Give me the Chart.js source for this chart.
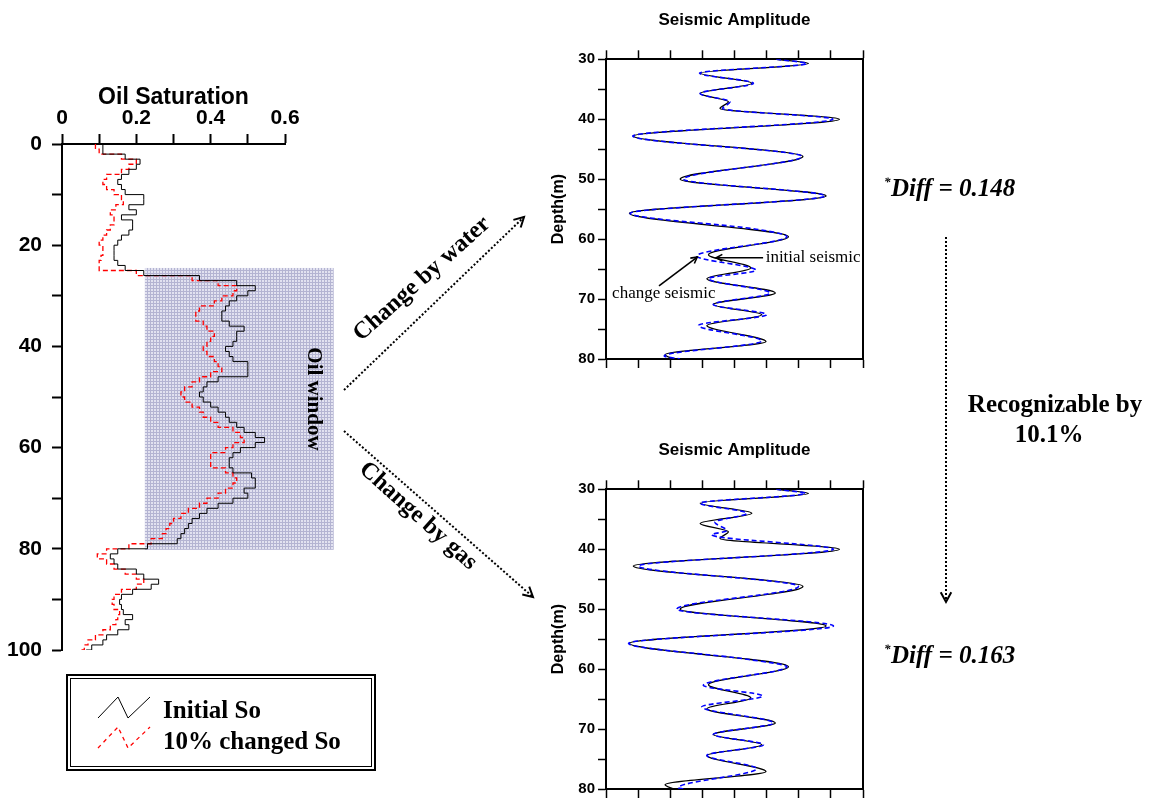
<!DOCTYPE html>
<html>
<head>
<meta charset="utf-8">
<script src="https://cdn.jsdelivr.net/npm/chart.js@4.4.0/dist/chart.umd.min.js"></script>
<style>
html, body { margin: 0; padding: 0; background: #fff; overflow: hidden; }
#wrap { position: relative; width: 1149px; height: 799px; }
canvas { position: absolute; }
</style>
</head>
<body>
<div id="wrap">
  <canvas id="soChart" width="1149" height="799" style="left:0;top:0"></canvas>
  <canvas id="waterChart" width="400" height="380" style="left:520px;top:0"></canvas>
  <canvas id="gasChart" width="400" height="380" style="left:520px;top:430px"></canvas>
</div>
<script>
// oil saturation log, 1 m steps
var soDepth = [0, 1, 2, 3, 4, 5, 6, 7, 8, 9, 10, 11, 12, 13, 14, 15, 16, 17, 18, 19, 20,
  21, 22, 23, 24, 25, 26, 27, 28, 29, 30, 31, 32, 33, 34, 35, 36, 37, 38, 39, 40,
  41, 42, 43, 44, 45, 46, 47, 48, 49, 50, 51, 52, 53, 54, 55, 56, 57, 58, 59, 60,
  61, 62, 63, 64, 65, 66, 67, 68, 69, 70, 71, 72, 73, 74, 75, 76, 77, 78, 79, 80,
  81, 82, 83, 84, 85, 86, 87, 88, 89, 90, 91, 92, 93, 94, 95, 96, 97, 98, 99, 100];
var soInitial = [0.11, 0.11, 0.17, 0.21, 0.20, 0.18, 0.16, 0.15, 0.16, 0.17, 0.22,
  0.22, 0.18, 0.20, 0.16, 0.19, 0.19, 0.18, 0.16, 0.15, 0.14,
  0.14, 0.14, 0.15, 0.17, 0.22, 0.37, 0.47, 0.52, 0.50, 0.47,
  0.45, 0.44, 0.43, 0.43, 0.45, 0.49, 0.47, 0.47, 0.46, 0.44,
  0.45, 0.46, 0.50, 0.50, 0.50, 0.42, 0.39, 0.38, 0.37, 0.38,
  0.40, 0.42, 0.44, 0.45, 0.47, 0.49, 0.52, 0.545, 0.52, 0.48,
  0.46, 0.45, 0.45, 0.46, 0.51, 0.52, 0.52, 0.49, 0.50, 0.46,
  0.42, 0.39, 0.37, 0.35, 0.34, 0.33, 0.32, 0.31, 0.23, 0.15,
  0.13, 0.14, 0.15, 0.20, 0.22, 0.26, 0.24, 0.19, 0.16, 0.155,
  0.16, 0.165, 0.19, 0.17, 0.18, 0.15, 0.12, 0.11, 0.08, 0.065];
var soChanged = [0.09, 0.10, 0.16, 0.20, 0.18, 0.16, 0.12, 0.11, 0.12, 0.14, 0.16,
  0.165, 0.145, 0.13, 0.14, 0.14, 0.13, 0.12, 0.11, 0.10, 0.11,
  0.11, 0.105, 0.10, 0.10, 0.20, 0.35, 0.42, 0.47, 0.46, 0.43,
  0.41, 0.37, 0.36, 0.36, 0.38, 0.39, 0.41, 0.40, 0.39, 0.38,
  0.39, 0.41, 0.42, 0.43, 0.40, 0.37, 0.35, 0.33, 0.32, 0.33,
  0.35, 0.37, 0.38, 0.40, 0.42, 0.46, 0.48, 0.49, 0.46, 0.44,
  0.40, 0.40, 0.40, 0.44, 0.46, 0.47, 0.46, 0.44, 0.42, 0.39,
  0.37, 0.34, 0.32, 0.30, 0.29, 0.28, 0.27, 0.24, 0.18, 0.12,
  0.095, 0.12, 0.14, 0.17, 0.20, 0.22, 0.20, 0.16, 0.14, 0.135,
  0.14, 0.155, 0.15, 0.145, 0.13, 0.11, 0.09, 0.07, 0.06, 0.05];
var soTickLabels = ['0', '0.2', '0.4', '0.6'];
var depthTickLabels = [0, 20, 40, 60, 80, 100];
var oilWindowSo = [0.223, 0.731];
var oilWindowDepth = [24.5, 80.2];

// seismic traces (depth of each extreme, amplitude)
var initDepth = [30, 30.7, 32.3, 34.0, 35.7, 37.1, 38.2, 40.0, 42.8, 46.2, 50.0, 52.8,
  55.7, 59.6, 62.6, 64.8, 66.6, 69.0, 70.9, 72.6, 74.4, 77.1, 79.3, 80];
var initAmp = [1.3, 2.30, -1.07, 0.54, -1.07, -0.19, -0.45, 3.27, -3.15, 2.13, -1.69, 2.85,
  -3.27, 1.68, -0.81, 0.51, -0.86, 1.27, -0.66, 0.85, -0.86, 0.98, -2.16, -1.9];
var waterDepth = [30, 30.7, 32.3, 34.0, 35.7, 37.1, 38.2, 40.0, 42.8, 46.2, 50.0, 52.8,
  55.7, 58.4, 59.6, 62.8, 65.2, 66.6, 69.0, 70.9, 72.6, 74.4, 77.0, 79.5, 80];
var waterAmp = [1.3, 2.25, -1.09, 0.59, -1.07, -0.14, -0.37, 3.06, -3.17, 2.10, -1.59, 2.82,
  -3.25, 0.75, 1.63, -1.18, 0.67, -0.81, 1.11, -0.66, 1.0, -1.12, 0.85, -2.19, -1.7];
var gasDepth = [30, 30.7, 32.3, 34.0, 35.5, 36.9, 37.6, 40.0, 42.8, 46.2, 50.0, 52.8,
  55.7, 58.4, 59.6, 62.7, 64.5, 66.3, 69.0, 70.9, 72.6, 74.4, 76.6, 79.8, 80];
var gasAmp = [1.3, 2.20, -1.07, 0.38, -0.61, -0.24, -0.71, 3.08, -2.99, 1.99, -1.80, 3.08,
  -3.30, 0.45, 1.63, -0.97, 0.88, -1.02, 1.21, -0.66, 0.90, -0.86, 0.69, -1.75, -1.59];
var seisTickLabels = [30, 40, 50, 60, 70, 80];

var SANS = '"Liberation Sans", Arial, sans-serif';
var SERIF = '"Liberation Serif", "Times New Roman", serif';

function pts(xs, ys) {
  return ys.map(function (d, i) { return { x: xs[i], y: d }; });
}

function arrowHead(ctx, x1, y1, x2, y2, size) {
  var a = Math.atan2(y2 - y1, x2 - x1);
  ctx.setLineDash([]);
  ctx.beginPath();
  ctx.moveTo(x2 - size * Math.cos(a - 0.5), y2 - size * Math.sin(a - 0.5));
  ctx.lineTo(x2, y2);
  ctx.lineTo(x2 - size * Math.cos(a + 0.5), y2 - size * Math.sin(a + 0.5));
  ctx.stroke();
}

function arrow(ctx, x1, y1, x2, y2, dash, width, size) {
  ctx.save();
  ctx.strokeStyle = '#000';
  ctx.lineWidth = width;
  ctx.setLineDash(dash);
  ctx.beginPath();
  ctx.moveTo(x1, y1);
  ctx.lineTo(x2, y2);
  ctx.stroke();
  arrowHead(ctx, x1, y1, x2, y2, size);
  ctx.restore();
}

function rotText(ctx, text, x, y, ang, font) {
  ctx.save();
  ctx.translate(x, y);
  ctx.rotate(ang);
  ctx.font = font;
  ctx.fillStyle = '#000';
  ctx.textAlign = 'center';
  ctx.textBaseline = 'middle';
  ctx.fillText(text, 0, 0);
  ctx.restore();
}

function gridPattern(ctx) {
  var c = document.createElement('canvas');
  c.width = 3; c.height = 3;
  var g = c.getContext('2d');
  g.fillStyle = '#e2e2f0';
  g.fillRect(0, 0, 3, 3);
  g.fillStyle = '#b4b4d2';
  g.fillRect(0, 0, 3, 1);
  g.fillRect(0, 0, 1, 3);
  return ctx.createPattern(c, 'repeat');
}

function diffText(ctx, x, y, value) {
  ctx.save();
  ctx.fillStyle = '#000';
  ctx.textAlign = 'left';
  ctx.textBaseline = 'alphabetic';
  ctx.font = 'italic bold 13px ' + SERIF;
  ctx.fillText('*', x, y - 10);
  ctx.font = 'italic bold 25px ' + SERIF;
  ctx.fillText('Diff = ' + value, x + 7, y);
  ctx.restore();
}

var figureNotes = {
  id: 'figureNotes',
  beforeDatasetsDraw: function (chart) {
    var ctx = chart.ctx, xs = chart.scales.x, ys = chart.scales.y;
    var x0 = xs.getPixelForValue(oilWindowSo[0]), x1 = xs.getPixelForValue(oilWindowSo[1]);
    var y0 = ys.getPixelForValue(oilWindowDepth[0]), y1 = ys.getPixelForValue(oilWindowDepth[1]);
    ctx.save();
    ctx.fillStyle = gridPattern(ctx);
    ctx.fillRect(x0, y0, x1 - x0, y1 - y0);
    ctx.restore();
    rotText(ctx, 'Oil window', 313, 399, Math.PI / 2, 'bold 21px ' + SERIF);
  },
  afterDraw: function (chart) {
    var ctx = chart.ctx;
    // arrows towards the seismic panels
    arrow(ctx, 344, 390, 524, 217, [2, 2], 2, 11);
    arrow(ctx, 344, 431, 533, 597, [2, 2], 2, 11);
    rotText(ctx, 'Change by water', 422, 279, -0.73, 'bold 24px ' + SERIF);
    rotText(ctx, 'Change by gas', 418, 516, 0.73, 'bold 24px ' + SERIF);

    diffText(ctx, 884, 196, '0.148');
    diffText(ctx, 884, 663, '0.163');
    arrow(ctx, 946, 237, 946, 602, [2, 2], 2, 11);
    ctx.save();
    ctx.fillStyle = '#000';
    ctx.font = 'bold 25px ' + SERIF;
    ctx.textAlign = 'center';
    ctx.fillText('Recognizable by', 1055, 412);
    ctx.fillText('10.1%', 1049, 442);
    ctx.restore();

    // legend box
    ctx.save();
    ctx.strokeStyle = '#000';
    ctx.lineWidth = 2;
    ctx.strokeRect(67, 675, 308, 95);
    ctx.lineWidth = 1;
    ctx.strokeRect(70.5, 678.5, 301, 88);
    ctx.beginPath();
    ctx.moveTo(98, 718); ctx.lineTo(118, 697); ctx.lineTo(128, 718); ctx.lineTo(150, 697);
    ctx.stroke();
    ctx.strokeStyle = '#ff0000';
    ctx.lineWidth = 1.3;
    ctx.setLineDash([4, 4]);
    ctx.beginPath();
    ctx.moveTo(98, 748); ctx.lineTo(118, 727); ctx.lineTo(128, 748); ctx.lineTo(150, 727);
    ctx.stroke();
    ctx.fillStyle = '#000';
    ctx.font = 'bold 25px ' + SERIF;
    ctx.fillText('Initial So', 163, 718);
    ctx.fillText('10% changed So', 163, 749);
    ctx.restore();
  }
};

new Chart('soChart', {
  type: 'scatter',
  data: {
    datasets: [{
      label: 'Initial So',
      data: pts(soInitial, soDepth),
      showLine: true,
      stepped: 'after',
      borderColor: '#000',
      borderWidth: 1,
      pointRadius: 0,
      order: 0
    }, {
      label: '10% changed So',
      data: pts(soChanged, soDepth),
      showLine: true,
      stepped: 'after',
      borderColor: '#ff0000',
      borderWidth: 1.3,
      borderDash: [5, 3],
      pointRadius: 0,
      order: 1
    }]
  },
  options: {
    responsive: false,
    animation: false,
    layout: { padding: { left: 2, top: 84, right: 864, bottom: 149 } },
    plugins: { legend: { display: false }, tooltip: { enabled: false } },
    scales: {
      x: {
        type: 'linear', position: 'top', min: 0, max: 0.6,
        afterFit: function (s) { s.height = 60; },
        ticks: {
          stepSize: 0.1, autoSkip: false, maxRotation: 0, padding: 3, color: '#000',
          font: { family: SANS, weight: 'bold', size: 21 },
          callback: function (v) {
            var k = Math.round(v * 10);
            return k % 2 === 0 ? soTickLabels[k / 2] : '';
          }
        },
        grid: { drawOnChartArea: false, tickLength: 10, tickColor: '#000', tickWidth: 2 },
        border: { color: '#000', width: 2 },
        title: {
          display: true, text: 'Oil Saturation', color: '#000',
          font: { family: SANS, weight: 'bold', size: 23 }, padding: { top: 0, bottom: 0 }
        }
      },
      y: {
        type: 'linear', reverse: true, min: 0, max: 100,
        afterFit: function (s) { s.width = 60; },
        ticks: {
          stepSize: 10, autoSkip: false, padding: 10, color: '#000',
          font: { family: SANS, weight: 'bold', size: 21 },
          callback: function (v) { return depthTickLabels.indexOf(v) >= 0 ? v : ''; }
        },
        grid: { drawOnChartArea: false, tickLength: 10, tickColor: '#000', tickWidth: 2 },
        border: { color: '#000', width: 2 }
      }
    }
  },
  plugins: [figureNotes]
});

var seismicNotes = {
  id: 'seismicNotes',
  afterDatasetsDraw: function (chart) {
    var ctx = chart.ctx, xs = chart.scales.x, ys = chart.scales.y;
    ctx.save();
    ctx.fillStyle = '#000';
    ctx.font = '17px ' + SERIF;
    ctx.fillText('initial seismic', xs.getPixelForValue(0.97), ys.getPixelForValue(63.8));
    ctx.fillText('change seismic', xs.getPixelForValue(-3.81), ys.getPixelForValue(69.8));
    arrow(ctx, xs.getPixelForValue(0.89), ys.getPixelForValue(63.1),
      xs.getPixelForValue(-0.57), ys.getPixelForValue(63.1), [], 1.6, 7);
    arrow(ctx, xs.getPixelForValue(-2.35), ys.getPixelForValue(67.8),
      xs.getPixelForValue(-1.16), ys.getPixelForValue(63.0), [], 1.6, 7);
    ctx.restore();
  }
};

function seismicChart(id, changeDepth, changeAmp, extra) {
  var tickGrid = { drawOnChartArea: false, tickLength: 9, tickColor: '#000', tickWidth: 1.5 };
  return new Chart(id, {
    type: 'line',
    data: {
      datasets: [{
        data: pts(changeAmp, changeDepth),
        borderColor: '#0000ff',
        borderWidth: 1.6,
        borderDash: [5, 3],
        pointRadius: 0,
        cubicInterpolationMode: 'monotone',
        order: 0
      }, {
        data: pts(initAmp, initDepth),
        borderColor: '#000',
        borderWidth: 1.3,
        pointRadius: 0,
        cubicInterpolationMode: 'monotone',
        order: 1
      }]
    },
    options: {
      indexAxis: 'y',
      responsive: false,
      animation: false,
      layout: { padding: { left: 26, top: 0, right: 57, bottom: 11 } },
      plugins: { legend: { display: false }, tooltip: { enabled: false } },
      scales: {
        x: {
          type: 'linear', position: 'top', min: -4, max: 4,
          afterFit: function (s) { s.height = 59.3; },
          ticks: { display: false, stepSize: 1 },
          grid: tickGrid,
          border: { color: '#000', width: 2 },
          title: {
            display: true, text: 'Seismic Amplitude', color: '#000',
            font: { family: SANS, weight: 'bold', size: 17 }, padding: { top: 10, bottom: 0 }
          }
        },
        x2: {
          type: 'linear', position: 'bottom', min: -4, max: 4,
          afterFit: function (s) { s.height = 10; },
          ticks: { display: false, stepSize: 1 },
          grid: tickGrid,
          border: { color: '#000', width: 2 }
        },
        y: {
          type: 'linear', position: 'left', reverse: true, min: 30, max: 80,
          afterFit: function (s) { s.width = 60; },
          ticks: {
            stepSize: 5, autoSkip: false, padding: 3, color: '#000',
            font: { family: SANS, weight: 'bold', size: 15 },
            callback: function (v) { return seisTickLabels.indexOf(v) >= 0 ? v : ''; }
          },
          grid: { drawOnChartArea: false, tickLength: 8, tickColor: '#000', tickWidth: 1.5 },
          border: { color: '#000', width: 2 },
          title: {
            display: true, text: 'Depth(m)', color: '#000',
            font: { family: SANS, weight: 'bold', size: 16 }, padding: { top: 3, bottom: 0 }
          }
        },
        y2: {
          type: 'linear', position: 'right', reverse: true, min: 30, max: 80,
          afterFit: function (s) { s.width = 0; },
          ticks: { display: false },
          grid: { display: false },
          border: { color: '#000', width: 2 }
        }
      }
    },
    plugins: extra
  });
}

seismicChart('waterChart', waterDepth, waterAmp, [seismicNotes]);
seismicChart('gasChart', gasDepth, gasAmp, []);
</script>
</body>
</html>
